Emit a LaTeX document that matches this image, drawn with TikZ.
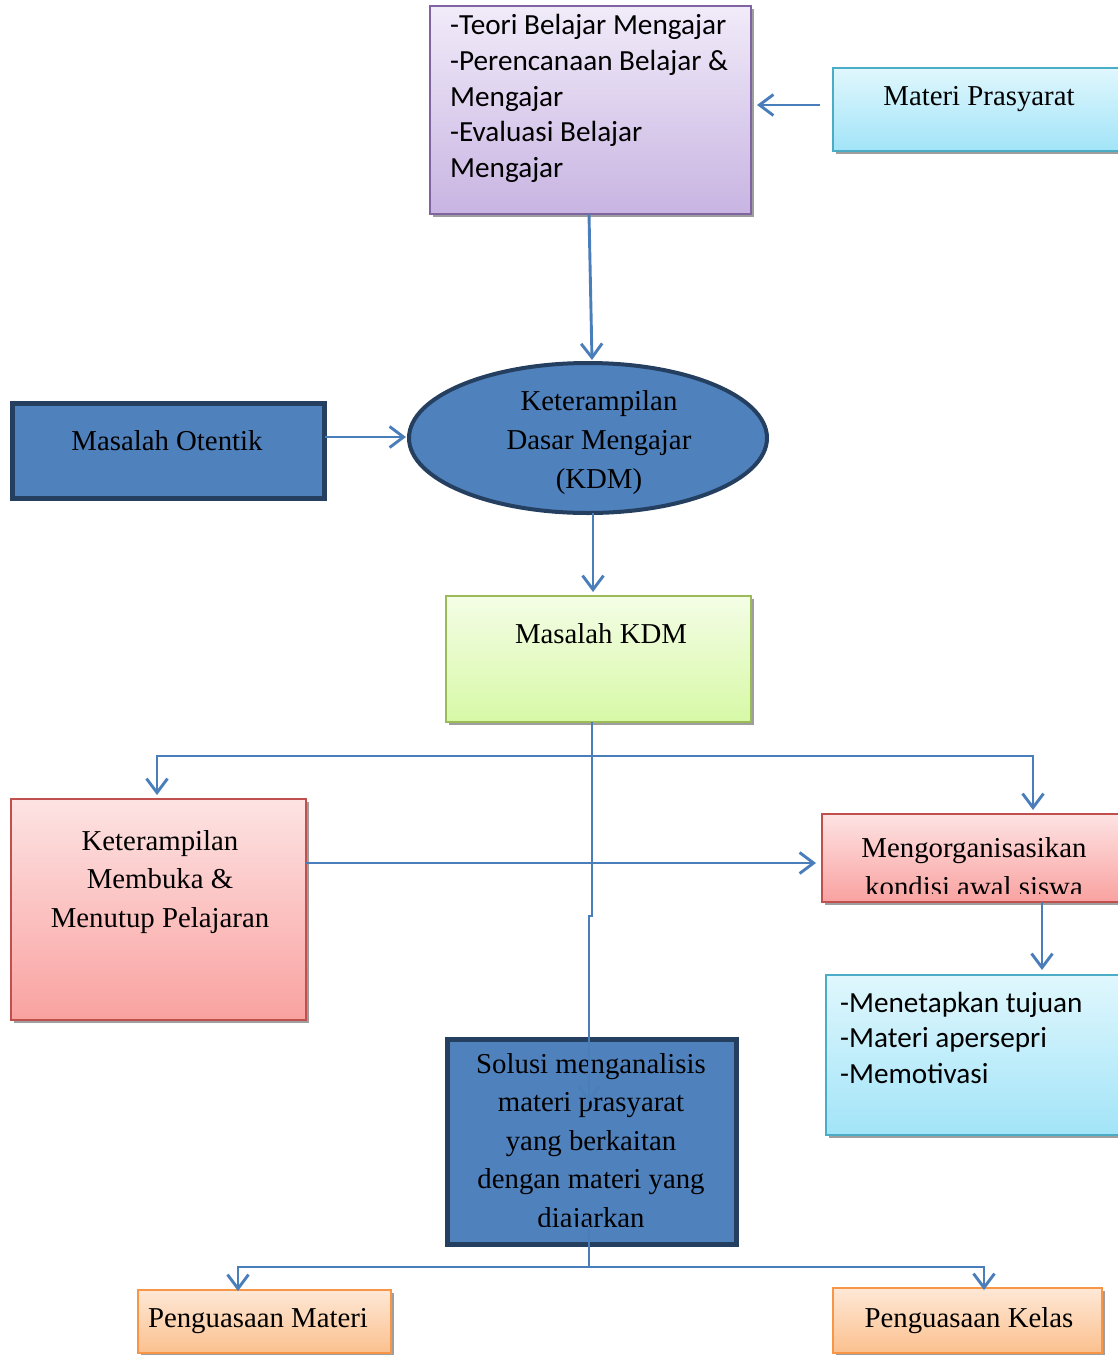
\documentclass[tikz,border=0pt]{standalone}
\usepackage{fontspec}
\setmainfont{Liberation Serif}
\newfontfamily\calfont{Carlito}
\usetikzlibrary{arrows.meta,shapes.geometric,shadows}
\definecolor{lineblue}{HTML}{4A7EBB}
\definecolor{darkfill}{HTML}{4F81BD}
\definecolor{darkedge}{HTML}{243F60}
\definecolor{purptop}{HTML}{F1EBF9}
\definecolor{purpbot}{HTML}{C8B4E2}
\definecolor{purpedge}{HTML}{8064A2}
\definecolor{cyantop}{HTML}{E0F7FD}
\definecolor{cyanbot}{HTML}{A2E4F8}
\definecolor{cyanedge}{HTML}{4BACC6}
\definecolor{greentop}{HTML}{F4FDE6}
\definecolor{greenbot}{HTML}{D7F9A6}
\definecolor{greenedge}{HTML}{9BBB59}
\definecolor{redtop}{HTML}{FDE3E3}
\definecolor{redbot}{HTML}{F9A2A0}
\definecolor{rededge}{HTML}{C0504D}
\definecolor{orangetop}{HTML}{FEE8D6}
\definecolor{orangebot}{HTML}{FBC08E}
\definecolor{orangeedge}{HTML}{F79646}
\begin{document}
\begin{tikzpicture}[x=1pt,y=-1pt,
  conn/.style={draw=lineblue,line width=2.9pt,-{Straight Barb[length=14pt,width=21pt]}},
  box/.style={rectangle,inner sep=0pt,outer sep=0pt,line width=1.8pt},
  shad/.style={drop shadow={shadow xshift=2.5pt,shadow yshift=-3pt,fill=black!38,opacity=1}},
  darkbox/.style={rectangle,inner sep=0pt,outer sep=0pt,draw=darkedge,fill=darkfill,line width=5pt},
  ser/.style={font=\fontsize{28.8}{39}\selectfont,inner sep=0pt,anchor=base},
  san/.style={font=\calfont\fontsize{29.2}{36}\selectfont,inner sep=0pt,anchor=base west}
]
\useasboundingbox (0,0) rectangle (1118,1355);
\clip (0,0) rectangle (1118,1355);

% boxes
\node[box,shad,draw=purpedge,top color=purptop,bottom color=purpbot,minimum width=321pt,minimum height=208pt] (top) at (590.5,110) {};
\node[box,shad,draw=cyanedge,top color=cyantop,bottom color=cyanbot,minimum width=292pt,minimum height=83pt] (mp) at (979,109.5) {};
\node[darkbox,minimum width=312pt,minimum height=95pt] (otentik) at (168.5,451) {};
\node[ellipse,draw=darkedge,fill=darkfill,line width=4pt,inner sep=0pt,outer sep=0pt,minimum width=358pt,minimum height=150pt] (kdm) at (588,438) {};
\node[box,shad,draw=greenedge,top color=greentop,bottom color=greenbot,minimum width=305pt,minimum height=126pt] (mkdm) at (598.5,659) {};
\node[box,shad,draw=rededge,top color=redtop,bottom color=redbot,minimum width=295pt,minimum height=221pt] (ket) at (158.5,909.5) {};
\node[box,shad,draw=rededge,top color=redtop,bottom color=redbot,minimum width=303pt,minimum height=88pt] (org) at (973.5,858) {};
\node[box,shad,draw=cyanedge,top color=cyantop,bottom color=cyanbot,minimum width=299pt,minimum height=160pt] (steps) at (975.5,1055) {};
\node[darkbox,minimum width=289pt,minimum height=205pt] (sol) at (592,1142) {};
\node[box,shad,draw=orangeedge,top color=orangetop,bottom color=orangebot,minimum width=253pt,minimum height=63pt] (pm) at (264.5,1321.5) {};
\node[box,shad,draw=orangeedge,top color=orangetop,bottom color=orangebot,minimum width=269pt,minimum height=65pt] (pk) at (967.5,1320.5) {};

% texts
\foreach \t/\y [count=\i] in {-Teori Belajar Mengajar/34, -Perencanaan Belajar \&/70, Mengajar/106, -Evaluasi Belajar/141.5, Mengajar/177}
  \node[san] (topt\i) at (450,\y) {\t};
\node[ser] (mpt) at (979,105) {Materi Prasyarat};
\node[ser] (otentikt) at (167,450) {Masalah Otentik};
\foreach \t/\y [count=\i] in {Keterampilan/410, Dasar Mengajar/449, {(KDM)}/488}
  \node[ser] (kdmt\i) at (599,\y) {\t};
\node[ser] (mkdmt) at (601,643) {Masalah KDM};
\foreach \t/\y [count=\i] in {Keterampilan/850, Membuka \&/888.5, Menutup Pelajaran/927}
  \node[ser] (kett\i) at (160,\y) {\t};
\node[ser] (orgt1) at (974,857) {Mengorganisasikan};
\begin{scope}
  \clip (822,814) rectangle (1118,893);
  \node[ser] (orgt2) at (974,896) {kondisi awal siswa};
\end{scope}
\foreach \t/\y [count=\i] in {-Menetapkan tujuan/1012, -Materi apersepri/1047.5, -Memotivasi/1083}
  \node[san] (stepst\i) at (840,\y) {\t};
\foreach \t/\y [count=\i] in {Solusi menganalisis/1073, materi prasyarat/1111.5, yang berkaitan/1150, dengan materi yang/1188.5}
  \node[ser] (solt\i) at (591,\y) {\t};
\begin{scope}
  \clip (445,1037) rectangle (739,1226);
  \node[ser] (solt5) at (591,1227) {diajarkan};
\end{scope}
\node[ser] (pmt) at (258,1327) {Penguasaan Materi};
\node[ser] (pkt) at (969,1327) {Penguasaan Kelas};

% connectors
\draw[conn] ([xshift=-13pt,yshift=4.5pt]mp.west) -- ([xshift=6pt,yshift=5pt]top.east);
\draw[conn] ([xshift=-1.5pt]top.south) -- ([xshift=4pt,yshift=3pt]kdm.north);
\draw[conn] ([yshift=14pt]otentik.east) -- ([xshift=-3pt,yshift=1pt]kdm.west);
\draw[conn] ([xshift=5pt]kdm.south) -- ([xshift=-5.5pt,yshift=4pt]mkdm.north);
\draw[conn] ([xshift=-6.5pt]mkdm.south) -- ++(0,34) -| ([xshift=-1.5pt,yshift=4pt]ket.north);
\draw[conn] ([xshift=-6.5pt]mkdm.south) -- ++(0,34) -| ([xshift=59.5pt,yshift=4pt]org.north);
\draw[conn] ([xshift=-6.5pt]mkdm.south) -- ++(0,194) -- ++(-3,0) -- ([xshift=-3pt,yshift=-63pt]sol.north);
\draw[conn] ([yshift=46.5pt]ket.east) -- ([xshift=-6pt,yshift=-5pt]org.west);
\draw[conn] ([xshift=68.5pt]org.south) -- ([xshift=66.5pt,yshift=5pt]steps.north);
\draw[conn] ([xshift=-3pt,yshift=20pt]sol.south) -- ++(0,42.5) -| ([xshift=-26.5pt,yshift=-1pt]pm.north);
\draw[conn] ([xshift=-3pt,yshift=20pt]sol.south) -- ++(0,42.5) -| ([xshift=16.5pt,yshift=-2pt]pk.north);
\end{tikzpicture}
\end{document}
